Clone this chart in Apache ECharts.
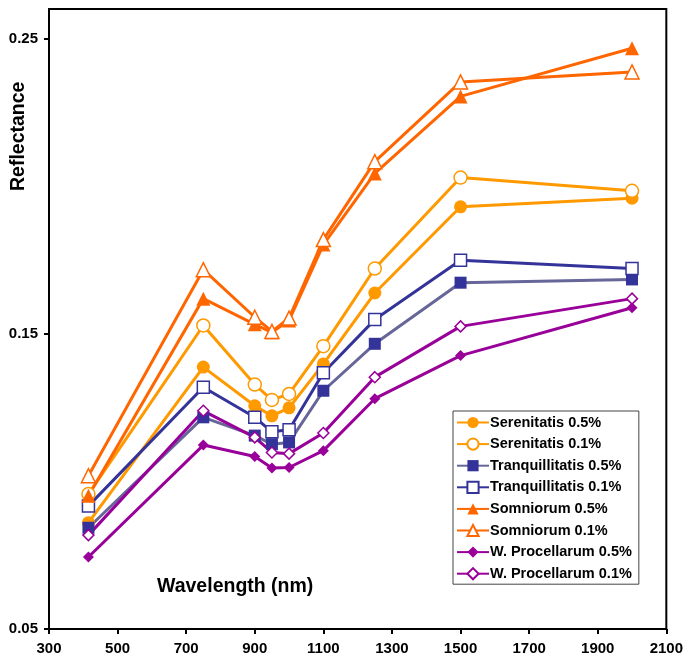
<!DOCTYPE html>
<html>
<head>
<meta charset="utf-8">
<script src="https://cdn.jsdelivr.net/npm/echarts@6/dist/echarts.min.js"></script>
<style>
  html, body { margin: 0; padding: 0; background: #fff; }
  #chart { width: 686px; height: 657px; }
</style>
</head>
<body>
<div id="chart"></div>
<script>
// wavelengths (nm)
const wavelengths = [415, 750, 900, 950, 1000, 1100, 1250, 1500, 2000];
const xTicks = [300, 500, 700, 900, 1100, 1300, 1500, 1700, 1900, 2100];
const yTicks = [0.05, 0.15, 0.25];

const serenitatis05 = [0.0860, 0.1387, 0.1256, 0.1222, 0.1249, 0.1398, 0.1638, 0.1930, 0.1959];
const serenitatis01 = [0.0957, 0.1528, 0.1328, 0.1276, 0.1296, 0.1458, 0.1721, 0.2029, 0.1984];
const tranq05 = [0.0843, 0.1217, 0.1155, 0.1126, 0.1132, 0.1307, 0.1466, 0.1673, 0.1684];
const tranq01 = [0.0917, 0.1319, 0.1217, 0.1168, 0.1175, 0.1368, 0.1548, 0.1749, 0.1721];
const somn05 = [0.0951, 0.1619, 0.1532, 0.1505, 0.1545, 0.1802, 0.2043, 0.2304, 0.2467];
const somn01 = [0.1019, 0.1717, 0.1556, 0.1508, 0.1553, 0.1819, 0.2083, 0.2353, 0.2387];
const proc05 = [0.0744, 0.1123, 0.1084, 0.1045, 0.1047, 0.1104, 0.1280, 0.1426, 0.1588];
const proc01 = [0.0818, 0.1239, 0.1149, 0.1098, 0.1094, 0.1164, 0.1353, 0.1525, 0.1619];

function pts(vals) {
  return wavelengths.map((w, i) => [w, vals[i]]);
}

function line(name, vals, lineColor, markColor, symbol, size, hollow) {
  return {
    name: name,
    type: "line",
    data: pts(vals),
    symbol: symbol,
    symbolSize: size,
    showAllSymbol: true,
    lineStyle: { color: lineColor, width: 3 },
    itemStyle: {
      color: hollow ? "#fff" : markColor,
      borderColor: markColor,
      borderWidth: hollow ? 1.5 : 0,
    },
    emphasis: { disabled: true },
  };
}

const tri = "path://M5,0 L10,9 L0,9 Z";
const font = "Liberation Sans, Arial, sans-serif";

const series = [
  line("Serenitatis 0.5%", serenitatis05, "#FF9900", "#FF9900", "circle", 13, false),
  line("Serenitatis 0.1%", serenitatis01, "#FF9900", "#FF9900", "circle", 13, true),
  line("Tranquillitatis 0.5%", tranq05, "#666699", "#333399", "rect", 12, false),
  line("Tranquillitatis 0.1%", tranq01, "#333399", "#333399", "rect", 12, true),
  line("Somniorum 0.5%", somn05, "#FF6600", "#FF6600", tri, 14, false),
  line("Somniorum 0.1%", somn01, "#FF6600", "#FF6600", tri, 14, true),
  line("W. Procellarum 0.5%", proc05, "#990099", "#990099", "diamond", 11, false),
  line("W. Procellarum 0.1%", proc01, "#990099", "#990099", "diamond", 11, true),
];

const chart = echarts.init(document.getElementById("chart"), null, { renderer: "canvas" });

chart.setOption({
  animation: false,
  backgroundColor: "#fff",
  textStyle: { fontFamily: font },
  grid: {
    left: 49, right: 17, top: 9, bottom: 28,
    show: true, borderColor: "#000", borderWidth: 2, backgroundColor: "#fff",
  },
  xAxis: {
    type: "value",
    min: 300, max: 2100, interval: 200,
    axisLine: { show: true, onZero: false, lineStyle: { color: "#000", width: 2 } },
    axisTick: { show: true, length: 5, lineStyle: { color: "#000", width: 2 } },
    splitLine: { show: false },
    axisLabel: {
      color: "#000", fontWeight: "bold", fontSize: 15, margin: 12,
      customValues: xTicks,
      formatter: (v) => String(v),
    },
  },
  yAxis: {
    type: "value",
    min: 0.05, max: 0.26,
    axisLine: { show: true, lineStyle: { color: "#000", width: 2 } },
    axisTick: { show: true, length: 5, customValues: yTicks, lineStyle: { color: "#000", width: 2 } },
    splitLine: { show: false },
    axisLabel: {
      color: "#000", fontWeight: "bold", fontSize: 15, margin: 11,
      customValues: yTicks,
      formatter: (v) => v.toFixed(2),
    },
  },
  legend: {
    orient: "vertical",
    left: 453, top: 411,
    itemWidth: 32, itemHeight: 14, itemGap: 6.6,
    padding: [4, 7, 3, 3],
    borderColor: "#444", borderWidth: 1,
    backgroundColor: "#fff",
    textStyle: { color: "#000", fontWeight: "bold", fontSize: 14.5, lineHeight: 14, padding: [0, 0, 0, -4] },
    data: series.map((s) => s.name),
  },
  graphic: [
    {
      type: "text", left: 157, top: 577,
      style: { text: "Wavelength (nm)", fill: "#000", font: "bold 19.5px " + font },
    },
    {
      type: "text", x: 9, y: 191, rotation: Math.PI / 2,
      style: {
        text: "Reflectance", fill: "#000", font: "bold 19.5px " + font,
        textAlign: "left", textVerticalAlign: "top",
      },
    },
  ],
  series: series,
});
</script>
</body>
</html>
